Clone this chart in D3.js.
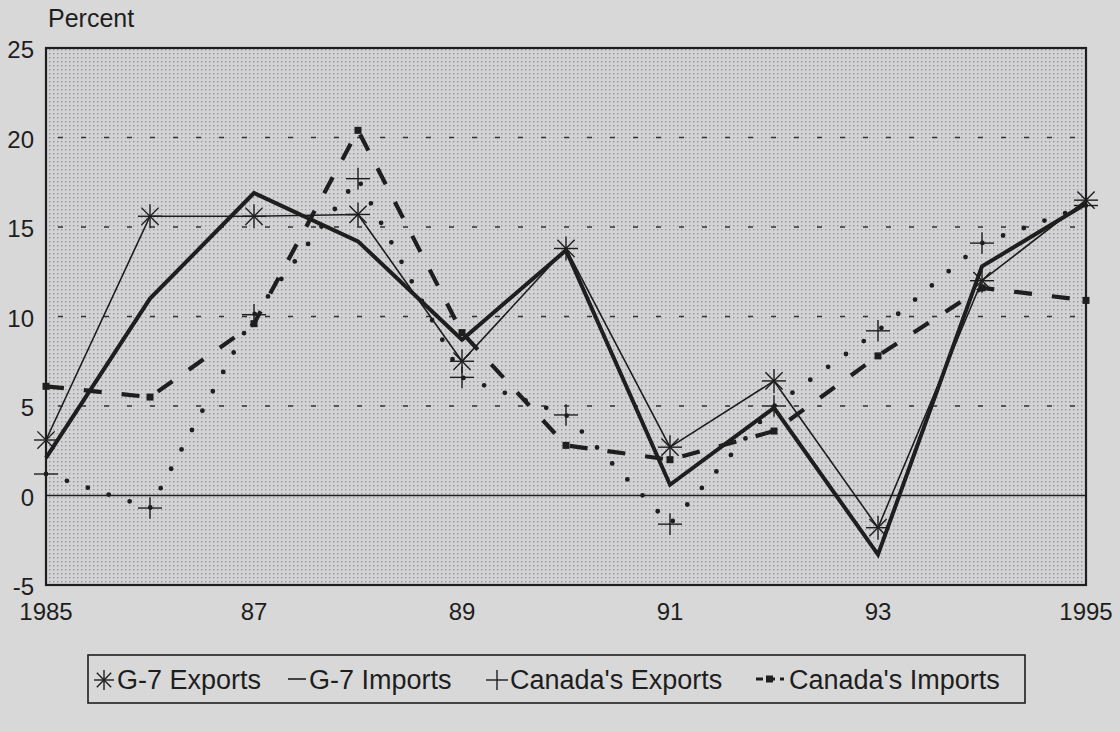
<!DOCTYPE html>
<html>
<head>
<meta charset="utf-8">
<script src="https://cdn.jsdelivr.net/npm/d3@7"></script>
<style>
  html, body { margin: 0; padding: 0; background: #d8d8d8; }
  svg { display: block; font-family: "Liberation Sans", Arial, sans-serif; }
</style>
</head>
<body>
<svg id="chart" width="1120" height="732"></svg>
<script>
//Data (annual % change)
var years = [1985, 1986, 1987, 1988, 1989, 1990, 1991, 1992, 1993, 1994, 1995];
var g7Exports = [3.1, 15.6, 15.6, 15.7, 7.5, 13.8, 2.7, 6.4, -1.8, 12.0, 16.5];
var g7Imports = [2.1, 11.0, 16.9, 14.2, 8.7, 13.7, 0.6, 4.9, -3.3, 12.8, 16.3];
var canExports = [1.2, -0.7, 10.1, 17.7, 6.6, 4.5, -1.6, 5.0, 9.2, 14.1, 16.2];
var canImports = [6.1, 5.5, 9.6, 20.4, 9.1, 2.8, 2.0, 3.6, 7.8, 11.6, 10.9];
var yTicks = [-5, 0, 5, 10, 15, 20, 25];
var gridTicks = [5, 10, 15, 20];
var xTicks = [1985, 1987, 1989, 1991, 1993, 1995];
var xTickLabels = ["1985", "87", "89", "91", "93", "1995"];
var legendNames = ["G-7 Exports", "G-7 Imports", "Canada's Exports", "Canada's Imports"];

var ink = "#1e1e1e";
var svg = d3.select("#chart");

//Plot box
var plotLeft = 46, plotRight = 1086, plotTop = 48, plotBottom = 585;
var x = d3.scaleLinear().domain([1985, 1995]).range([plotLeft, plotRight]);
var y = d3.scaleLinear().domain([-5, 25]).range([plotBottom, plotTop]);

//Dot screen background of the plot
var defs = svg.append("defs");
var pat = defs.append("pattern").attr("id", "dots").attr("patternUnits", "userSpaceOnUse")
    .attr("width", 4).attr("height", 4);
pat.append("rect").attr("width", 4).attr("height", 4).attr("fill", "#d3d3d5");
pat.append("rect").attr("x", 1).attr("y", 1).attr("width", 1.4).attr("height", 1.4).attr("fill", "#969698");

svg.append("rect").attr("x", plotLeft).attr("y", plotTop).attr("width", plotRight - plotLeft).attr("height", plotBottom - plotTop)
    .attr("fill", "url(#dots)");

//Dashed grid lines
svg.selectAll("line.grid").data(gridTicks).enter().append("line")
    .attr("class", "grid")
    .attr("x1", plotLeft + 2).attr("x2", plotRight)
    .attr("y1", function(d) { return y(d); }).attr("y2", function(d) { return y(d); })
    .attr("stroke", "#333").attr("stroke-width", 1.6).attr("stroke-dasharray", "5,18").attr("stroke-dashoffset", -10);

//Zero line
svg.append("line").attr("x1", plotLeft).attr("x2", plotRight).attr("y1", y(0)).attr("y2", y(0))
    .attr("stroke", ink).attr("stroke-width", 1.6);

//Frame
svg.append("rect").attr("x", plotLeft).attr("y", plotTop).attr("width", plotRight - plotLeft).attr("height", plotBottom - plotTop)
    .attr("fill", "none").attr("stroke", ink).attr("stroke-width", 2.2);

//Y axis labels
svg.selectAll("text.ytick").data(yTicks).enter().append("text")
    .attr("class", "ytick")
    .attr("x", 34).attr("y", function(d) { return y(d) + 10; })
    .attr("text-anchor", "end").attr("font-size", 24).attr("fill", ink)
    .text(function(d) { return d; });

svg.append("text").attr("x", 48).attr("y", 27).attr("font-size", 25).attr("fill", ink).text("Percent");

//X axis labels
svg.selectAll("text.xtick").data(xTicks).enter().append("text")
    .attr("class", "xtick")
    .attr("x", function(d) { return x(d); }).attr("y", 620)
    .attr("text-anchor", "middle").attr("font-size", 24).attr("fill", ink)
    .text(function(d, i) { return xTickLabels[i]; });

var line = d3.line().x(function(d) { return x(d[0]); }).y(function(d) { return y(d[1]); });
function pairs(vals) { return years.map(function(yr, i) { return [yr, vals[i]]; }); }

//Series lines
svg.append("path").datum(pairs(g7Exports)).attr("d", line)
    .attr("fill", "none").attr("stroke", ink).attr("stroke-width", 1.6).attr("stroke-linejoin", "round");
svg.append("path").datum(pairs(g7Imports)).attr("d", line)
    .attr("fill", "none").attr("stroke", ink).attr("stroke-width", 4).attr("stroke-linejoin", "miter");
svg.append("path").datum(pairs(canImports)).attr("d", line)
    .attr("fill", "none").attr("stroke", ink).attr("stroke-width", 4.2).attr("stroke-dasharray", "18,20");
svg.append("path").datum(pairs(canExports)).attr("d", line)
    .attr("fill", "none").attr("stroke", ink).attr("stroke-width", 4.8).attr("stroke-dasharray", "0,22")
    .attr("stroke-linecap", "round");

//Markers
function asterisk(g, cx, cy, r) {
    var d = r * 0.72;
    var segs = [[-r, 0, r, 0], [0, -r, 0, r], [-d, -d, d, d], [-d, d, d, -d]];
    segs.forEach(function(s) {
        g.append("line").attr("x1", cx + s[0]).attr("y1", cy + s[1]).attr("x2", cx + s[2]).attr("y2", cy + s[3])
            .attr("stroke", ink).attr("stroke-width", 1.4);
    });
}
function plus(g, cx, cy, r) {
    g.append("line").attr("x1", cx - r).attr("x2", cx + r).attr("y1", cy).attr("y2", cy)
        .attr("stroke", ink).attr("stroke-width", 1.4);
    g.append("line").attr("x1", cx).attr("x2", cx).attr("y1", cy - r * 0.9).attr("y2", cy + r * 0.9)
        .attr("stroke", ink).attr("stroke-width", 1.4);
}
var mk = svg.append("g");
years.forEach(function(yr, i) {
    asterisk(mk, x(yr), y(g7Exports[i]), 12);
    plus(mk, x(yr), y(canExports[i]), 12);
    mk.append("rect").attr("x", x(yr) - 3.5).attr("y", y(canImports[i]) - 3.5).attr("width", 7).attr("height", 7)
        .attr("fill", ink);
});

//Legend
var lg = svg.append("g");
lg.append("rect").attr("x", 88).attr("y", 655).attr("width", 937).attr("height", 48)
    .attr("fill", "none").attr("stroke", ink).attr("stroke-width", 1.6);
var textX = [117, 309, 510, 789];
var baseY = 689;
lg.selectAll("text").data(legendNames).enter().append("text")
    .attr("x", function(d, i) { return textX[i]; }).attr("y", baseY)
    .attr("font-size", 27).attr("fill", ink)
    .text(function(d) { return d; });
asterisk(lg, 104, 680, 10);
lg.append("line").attr("x1", 288).attr("x2", 306).attr("y1", 679).attr("y2", 679).attr("stroke", ink).attr("stroke-width", 1.6);
plus(lg, 497, 680, 11);
lg.append("line").attr("x1", 756).attr("x2", 784).attr("y1", 679).attr("y2", 679)
    .attr("stroke", ink).attr("stroke-width", 3).attr("stroke-dasharray", "7,5");
lg.append("rect").attr("x", 766).attr("y", 675.5).attr("width", 7).attr("height", 7).attr("fill", ink);
</script>
</body>
</html>
